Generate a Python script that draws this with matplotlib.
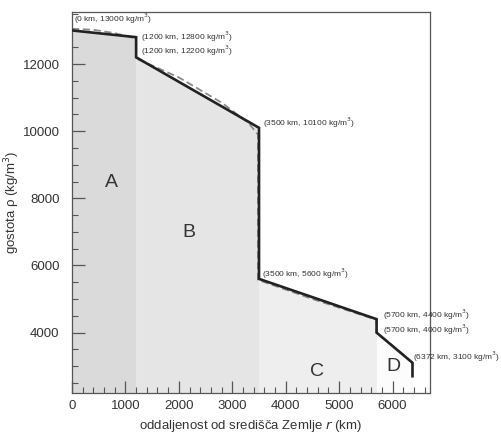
import matplotlib
matplotlib.use("Agg")
import matplotlib.pyplot as plt
from matplotlib.ticker import MultipleLocator

plt.rcParams['font.family'] = ['Liberation Sans', 'DejaVu Sans']

# Model (solid) profile: radius (km) and density (kg/m^3)
r_model = [0, 1200, 1200, 3500, 3500, 5700, 5700, 6372, 6372]
rho_model = [13000, 12800, 12200, 10100, 5600, 4400, 4000, 3100, 2700]

# Reference (dashed) profile
r_ref = [0, 400, 800, 1200, 1200, 2000, 2800, 3300, 3480, 3480, 4500, 5700, 5700, 5800, 6100, 6372]
rho_ref = [13050, 13020, 12920, 12760, 12170, 11600, 10850, 10250, 9900, 5570, 5000, 4380, 3990, 3870, 3480, 3100]

# Shaded regions
regions = ['A', 'B', 'C', 'D']
region_start = [0, 1200, 3500, 5700]
region_end = [1200, 3500, 5700, 6372]
region_top_start = [13000, 12200, 5600, 4000]
region_top_end = [12800, 10100, 4400, 3100]
region_colors = ['#dadada', '#e5e5e5', '#eeeeee', '#fcfcfc']
label_x = [730, 2190, 4580, 6020]
label_y = [8480, 6990, 2830, 3000]

# Point annotations
ann_text = ['(0 km, 13000 kg/m$^3$)', '(1200 km, 12800 kg/m$^3$)', '(1200 km, 12200 kg/m$^3$)',
            '(3500 km, 10100 kg/m$^3$)', '(3500 km, 5600 kg/m$^3$)', '(5700 km, 4400 kg/m$^3$)',
            '(5700 km, 4000 kg/m$^3$)', '(6372 km, 3100 kg/m$^3$)']
ann_x = [30, 1300, 1300, 3580, 3560, 5820, 5820, 6380]
ann_y = [13360, 12825, 12380, 10235, 5740, 4520, 4090, 3270]

ymin, ymax = 2200, 13550

fig = plt.figure(figsize=(5.01, 4.36), dpi=100)
ax = fig.add_axes([0.1437, 0.0986, 0.7146, 0.8739])

for s, e, t0, t1, c in zip(region_start, region_end, region_top_start, region_top_end, region_colors):
    ax.fill_between([s, e], [ymin, ymin], [t0, t1], color=c, lw=0, zorder=1)

ax.plot(r_ref, rho_ref, color='#8a8a8a', lw=1.3, ls=(0, (4, 2)), zorder=2)
ax.plot(r_model, rho_model, color='#222222', lw=1.9, zorder=3, solid_joinstyle='miter')

for lab, x, y in zip(regions, label_x, label_y):
    ax.text(x, y, lab, fontsize=14, color='#333333', ha='center', va='center', zorder=4)

for t, x, y in zip(ann_text, ann_x, ann_y):
    ax.text(x, y, t, fontsize=6.0, color='#333333', ha='left', va='center', zorder=4, clip_on=False)

ax.set_xlim(0, 6700)
ax.set_ylim(ymin, ymax)
ax.xaxis.set_major_locator(MultipleLocator(1000))
ax.xaxis.set_minor_locator(MultipleLocator(200))
ax.yaxis.set_major_locator(MultipleLocator(2000))
ax.yaxis.set_minor_locator(MultipleLocator(500))
ax.set_yticks([4000, 6000, 8000, 10000, 12000])
ax.tick_params(which='major', direction='in', length=9, width=0.9, color='#555555',
               labelsize=9.5, labelcolor='#333333')
ax.tick_params(axis='x', which='major', pad=5)
ax.tick_params(axis='y', which='major', pad=9)
ax.tick_params(which='minor', direction='in', length=4, width=0.8, color='#555555')
for sp in ax.spines.values():
    sp.set_color('#555555')
    sp.set_linewidth(0.9)

ax.set_xlabel('oddaljenost od središča Zemlje $r$ (km)', fontsize=9.5, color='#333333', labelpad=4)
ax.set_ylabel('gostota ρ (kg/m$^3$)', fontsize=9.5, color='#333333')
ax.yaxis.set_label_coords(-0.14, 0.5)

fig.savefig('out.png', dpi=100)
